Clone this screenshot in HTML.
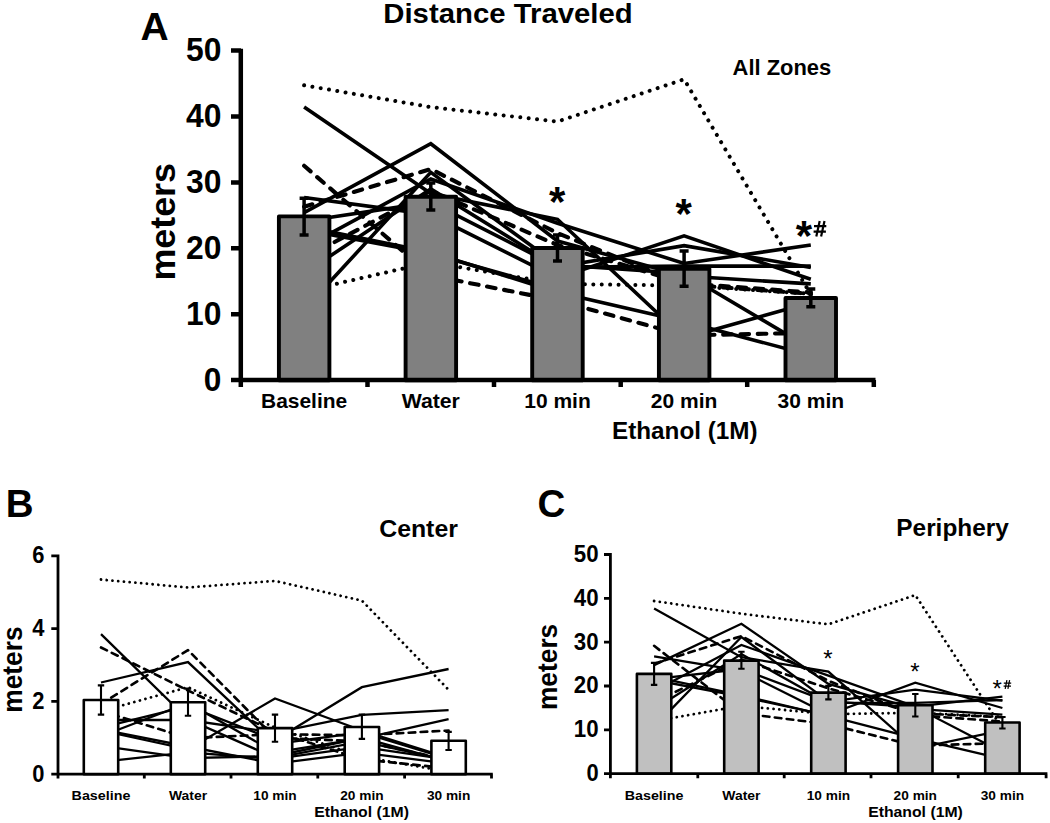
<!DOCTYPE html>
<html><head><meta charset="utf-8"><title>Distance Traveled</title>
<style>
html,body{margin:0;padding:0;background:#fff;}
body{width:1050px;height:823px;overflow:hidden;}
svg{display:block;}
svg text{font-family:"Liberation Sans", sans-serif;font-weight:bold;fill:#000;}
</style></head>
<body>
<svg width="1050" height="823" viewBox="0 0 1050 823">
<rect width="1050" height="823" fill="#fff"/>
<g id="A">
<polyline points="304.1,85.3 430.8,107.1 557.5,121.6 684.1,79.3 810.8,294.5" fill="none" stroke="#000" stroke-width="4.0" stroke-dasharray="0.01 8.4" stroke-linecap="round" stroke-linejoin="round"/>
<polyline points="304.1,291.2 430.8,262.2 557.5,283.9 684.1,285.6 810.8,293.8" fill="none" stroke="#000" stroke-width="4.0" stroke-dasharray="0.01 8.4" stroke-linecap="round" stroke-linejoin="round"/>
<polyline points="304.1,165.8 430.8,275.4 557.5,300.4 684.1,335.4 810.8,332.8" fill="none" stroke="#000" stroke-width="4.14" stroke-dasharray="8.6 8.7" stroke-linecap="round" stroke-linejoin="round"/>
<polyline points="304.1,206.7 430.8,169.1 557.5,233.1 684.1,284.6 810.8,293.8" fill="none" stroke="#000" stroke-width="4.14" stroke-dasharray="8.6 8.7" stroke-linecap="round" stroke-linejoin="round"/>
<polyline points="304.1,258.2 430.8,190.9 557.5,245.0 684.1,283.3 810.8,292.5" fill="none" stroke="#000" stroke-width="4.14" stroke-dasharray="8.6 8.7" stroke-linecap="round" stroke-linejoin="round"/>
<polyline points="304.1,212.7 430.8,143.7 557.5,241.0 684.1,276.0 810.8,283.9" fill="none" stroke="#000" stroke-width="3.6" stroke-linejoin="miter"/>
<polyline points="304.1,107.1 430.8,193.5 557.5,219.3 684.1,338.1 810.8,302.4" fill="none" stroke="#000" stroke-width="3.6" stroke-linejoin="miter"/>
<polyline points="304.1,309.7 430.8,172.4 557.5,264.8 684.1,273.4 810.8,348.6" fill="none" stroke="#000" stroke-width="3.6" stroke-linejoin="miter"/>
<polyline points="304.1,197.5 430.8,214.6 557.5,278.0 684.1,235.8 810.8,279.3" fill="none" stroke="#000" stroke-width="3.6" stroke-linejoin="miter"/>
<polyline points="304.1,221.2 430.8,202.1 557.5,266.8 684.1,245.7 810.8,267.4" fill="none" stroke="#000" stroke-width="3.6" stroke-linejoin="miter"/>
<polyline points="304.1,247.6 430.8,179.0 557.5,223.2 684.1,263.5 810.8,245.0" fill="none" stroke="#000" stroke-width="3.6" stroke-linejoin="miter"/>
<polyline points="304.1,226.5 430.8,252.3 557.5,292.2 684.1,321.6 810.8,355.2" fill="none" stroke="#000" stroke-width="3.6" stroke-linejoin="miter"/>
<polyline points="304.1,273.4 430.8,188.9 557.5,267.4 684.1,266.1 810.8,266.1" fill="none" stroke="#000" stroke-width="3.6" stroke-linejoin="miter"/>
<polyline points="304.1,229.8 430.8,253.6 557.5,289.2" fill="none" stroke="#000" stroke-width="3.6" stroke-linejoin="miter"/>
<rect x="278.9" y="216.4" width="50.5" height="163.9" fill="#808080" stroke="#000" stroke-width="3.9" stroke-linejoin="round"/>
<rect x="405.6" y="196.7" width="50.5" height="183.7" fill="#808080" stroke="#000" stroke-width="3.9" stroke-linejoin="round"/>
<rect x="532.2" y="248.0" width="50.5" height="132.3" fill="#808080" stroke="#000" stroke-width="3.9" stroke-linejoin="round"/>
<rect x="658.9" y="268.8" width="50.5" height="111.5" fill="#808080" stroke="#000" stroke-width="3.9" stroke-linejoin="round"/>
<rect x="785.5" y="298.0" width="50.5" height="82.3" fill="#808080" stroke="#000" stroke-width="3.9" stroke-linejoin="round"/>
<path d="M304.1,198.2V235.0M299.6,198.2H308.6M299.6,235.0H308.6" fill="none" stroke="#000" stroke-width="3.5"/>
<path d="M430.8,183.0V209.9M426.3,183.0H435.3M426.3,209.9H435.3" fill="none" stroke="#000" stroke-width="3.5"/>
<path d="M557.5,235.0V261.0M553.0,235.0H562.0M553.0,261.0H562.0" fill="none" stroke="#000" stroke-width="3.5"/>
<path d="M684.1,251.0V286.2M679.6,251.0H688.6M679.6,286.2H688.6" fill="none" stroke="#000" stroke-width="3.5"/>
<path d="M810.8,288.9V306.7M806.3,288.9H815.3M806.3,306.7H815.3" fill="none" stroke="#000" stroke-width="3.5"/>
<path d="M240.8,48.7V387M231,380.1H875.5M367.5,380V387M494,380V387M620.7,380V387M747.2,380V387M873.8,380V387M231,50.4H241M231,116.4H241M231,182.4H241M231,248.3H241M231,314.3H241" fill="none" stroke="#000" stroke-width="4.5"/>
<text x="221.4" y="61.3" font-size="32.7" text-anchor="end"  textLength="35.4" lengthAdjust="spacingAndGlyphs">50</text>
<text x="221.4" y="127.30000000000001" font-size="32.7" text-anchor="end"  textLength="35.4" lengthAdjust="spacingAndGlyphs">40</text>
<text x="221.4" y="193.3" font-size="32.7" text-anchor="end"  textLength="35.4" lengthAdjust="spacingAndGlyphs">30</text>
<text x="221.4" y="259.2" font-size="32.7" text-anchor="end"  textLength="35.4" lengthAdjust="spacingAndGlyphs">20</text>
<text x="221.4" y="325.2" font-size="32.7" text-anchor="end"  textLength="35.4" lengthAdjust="spacingAndGlyphs">10</text>
<text x="221.4" y="391.2" font-size="32.7" text-anchor="end"  textLength="17.6" lengthAdjust="spacingAndGlyphs">0</text>
<text x="304.1" y="408.4" font-size="21" text-anchor="middle"  textLength="86.2" lengthAdjust="spacingAndGlyphs">Baseline</text>
<text x="430.8" y="408.4" font-size="21" text-anchor="middle"  textLength="58.2" lengthAdjust="spacingAndGlyphs">Water</text>
<text x="557.5" y="408.4" font-size="21" text-anchor="middle" >10 min</text>
<text x="684.1" y="408.4" font-size="21" text-anchor="middle" >20 min</text>
<text x="810.8" y="408.4" font-size="21" text-anchor="middle" >30 min</text>
<text x="684.8" y="439.3" font-size="24.2" text-anchor="middle"  textLength="145.6" lengthAdjust="spacingAndGlyphs">Ethanol (1M)</text>
<text x="383.3" y="22.9" font-size="28" text-anchor="start"  textLength="249.4" lengthAdjust="spacingAndGlyphs">Distance Traveled</text>
<text x="732.6" y="74.6" font-size="21.8" text-anchor="start"  textLength="98.6" lengthAdjust="spacingAndGlyphs">All Zones</text>
<text x="140.5" y="40" font-size="39" text-anchor="start" >A</text>
<text transform="translate(175.2,221.8) rotate(-90)" font-size="35.2" text-anchor="middle" textLength="117.6" lengthAdjust="spacingAndGlyphs">meters</text>
<text x="557.2" y="216" font-size="42" text-anchor="middle" >*</text>
<text x="683.6" y="228.2" font-size="42" text-anchor="middle" >*</text>
<text x="804" y="250" font-size="42" text-anchor="middle" >*</text>
<path d="M816.3,236.6L819.7,220.9M821.1,236.6L824.5,220.9M814,226.2H826.3M813.6,231.7H825.9" fill="none" stroke="#000" stroke-width="2.2"/>
</g>
<g id="B">
<polyline points="101.0,579.5 188.0,587.5 275.0,580.9 361.9,600.6 448.6,689.8" fill="none" stroke="#000" stroke-width="2.8" stroke-dasharray="0.01 5.75" stroke-linecap="round" stroke-linejoin="round"/>
<polyline points="101.0,711.2 188.0,687.2 275.0,727.6 361.9,756.7 448.6,771.7" fill="none" stroke="#000" stroke-width="2.8" stroke-dasharray="0.01 5.75" stroke-linecap="round" stroke-linejoin="round"/>
<polyline points="101.0,647.5 188.0,690.5 275.0,732.0 361.9,759.3 448.6,768.4" fill="none" stroke="#000" stroke-width="2.64" stroke-dasharray="6.6 5.4" stroke-linecap="round" stroke-linejoin="round"/>
<polyline points="101.0,710.9 188.0,738.2 275.0,734.2 361.9,735.3 448.6,730.5" fill="none" stroke="#000" stroke-width="2.64" stroke-dasharray="6.6 5.4" stroke-linecap="round" stroke-linejoin="round"/>
<polyline points="101.0,703.9 188.0,650.1 275.0,737.8 361.9,741.4 448.6,759.6" fill="none" stroke="#000" stroke-width="2.64" stroke-dasharray="6.6 5.4" stroke-linecap="round" stroke-linejoin="round"/>
<polyline points="101.0,736.3 188.0,702.9 275.0,752.4 361.9,738.5 448.6,719.2" fill="none" stroke="#000" stroke-width="2.3" stroke-linejoin="miter"/>
<polyline points="101.0,634.1 188.0,719.2 275.0,757.8 361.9,741.4 448.6,760.4" fill="none" stroke="#000" stroke-width="2.3" stroke-linejoin="miter"/>
<polyline points="101.0,761.8 188.0,752.4 275.0,758.9 361.9,746.9 448.6,759.6" fill="none" stroke="#000" stroke-width="2.3" stroke-linejoin="miter"/>
<polyline points="101.0,745.8 188.0,758.2 275.0,756.0 361.9,737.8 448.6,761.5" fill="none" stroke="#000" stroke-width="2.3" stroke-linejoin="miter"/>
<polyline points="101.0,682.5 188.0,662.1 275.0,744.0 361.9,732.3 448.6,758.9" fill="none" stroke="#000" stroke-width="2.3" stroke-linejoin="miter"/>
<polyline points="101.0,730.5 188.0,749.4 275.0,698.5 361.9,730.5 448.6,757.8" fill="none" stroke="#000" stroke-width="2.3" stroke-linejoin="miter"/>
<polyline points="101.0,729.4 188.0,746.5 275.0,763.6 361.9,752.7 448.6,763.6" fill="none" stroke="#000" stroke-width="2.3" stroke-linejoin="miter"/>
<polyline points="101.0,727.6 188.0,706.1 275.0,740.3 361.9,687.2 448.6,669.0" fill="none" stroke="#000" stroke-width="2.3" stroke-linejoin="miter"/>
<polyline points="101.0,720.0 188.0,720.0 275.0,732.7 361.9,714.9 448.6,710.1" fill="none" stroke="#000" stroke-width="2.3" stroke-linejoin="miter"/>
<rect x="83.8" y="700.0" width="34.4" height="74.2" fill="#ffffff" stroke="#000" stroke-width="2.6" stroke-linejoin="round"/>
<rect x="170.8" y="702.3" width="34.4" height="71.9" fill="#ffffff" stroke="#000" stroke-width="2.6" stroke-linejoin="round"/>
<rect x="257.8" y="728.1" width="34.4" height="46.1" fill="#ffffff" stroke="#000" stroke-width="2.6" stroke-linejoin="round"/>
<rect x="344.7" y="727.0" width="34.4" height="47.2" fill="#ffffff" stroke="#000" stroke-width="2.6" stroke-linejoin="round"/>
<rect x="431.4" y="740.7" width="34.4" height="33.5" fill="#ffffff" stroke="#000" stroke-width="2.6" stroke-linejoin="round"/>
<path d="M101.0,685.4V714.6M97.8,685.4H104.2M97.8,714.6H104.2" fill="none" stroke="#000" stroke-width="2.1"/>
<path d="M188.0,688.6V715.7M184.8,688.6H191.2M184.8,715.7H191.2" fill="none" stroke="#000" stroke-width="2.1"/>
<path d="M275.0,714.6V741.7M271.8,714.6H278.2M271.8,741.7H278.2" fill="none" stroke="#000" stroke-width="2.1"/>
<path d="M361.9,714.6V738.9M358.7,714.6H365.1M358.7,738.9H365.1" fill="none" stroke="#000" stroke-width="2.1"/>
<path d="M448.6,731.9V750.0M445.4,731.9H451.8M445.4,750.0H451.8" fill="none" stroke="#000" stroke-width="2.1"/>
<path d="M58,554.5V778.5M51.3,774.1H492.8M144.3,774V778.5M231,774V778.5M317.8,774V778.5M404.6,774V778.5M491.5,774V778.5M51.3,555.8H58M51.3,628.6H58M51.3,701.4H58" fill="none" stroke="#000" stroke-width="2.8"/>
<text x="44.4" y="563.0999999999999" font-size="23.2" text-anchor="end"  textLength="12.2" lengthAdjust="spacingAndGlyphs">6</text>
<text x="44.4" y="635.9" font-size="23.2" text-anchor="end"  textLength="12.2" lengthAdjust="spacingAndGlyphs">4</text>
<text x="44.4" y="708.6999999999999" font-size="23.2" text-anchor="end"  textLength="12.2" lengthAdjust="spacingAndGlyphs">2</text>
<text x="44.4" y="781.5" font-size="23.2" text-anchor="end"  textLength="12.2" lengthAdjust="spacingAndGlyphs">0</text>
<text x="101.0" y="799.7" font-size="13.7" text-anchor="middle"  textLength="58.8" lengthAdjust="spacingAndGlyphs">Baseline</text>
<text x="188.0" y="799.7" font-size="13.7" text-anchor="middle"  textLength="38.2" lengthAdjust="spacingAndGlyphs">Water</text>
<text x="275.0" y="799.7" font-size="13.7" text-anchor="middle" >10 min</text>
<text x="361.9" y="799.7" font-size="13.7" text-anchor="middle" >20 min</text>
<text x="448.6" y="799.7" font-size="13.7" text-anchor="middle" >30 min</text>
<text x="361.6" y="816.7" font-size="14.6" text-anchor="middle"  textLength="94.7" lengthAdjust="spacingAndGlyphs">Ethanol (1M)</text>
<text x="379.2" y="536.9" font-size="24.8" text-anchor="start"  textLength="78.7" lengthAdjust="spacingAndGlyphs">Center</text>
<text x="5.8" y="517.4" font-size="38.5" text-anchor="start" >B</text>
<text transform="translate(21.9,669.6) rotate(-90)" font-size="28.3" text-anchor="middle" textLength="86.3" lengthAdjust="spacingAndGlyphs">meters</text>
</g>
<g id="C">
<polyline points="654.1,601.0 741.4,613.7 828.4,624.3 915.3,595.1 1002.4,728.6" fill="none" stroke="#000" stroke-width="2.8" stroke-dasharray="0.01 5.75" stroke-linecap="round" stroke-linejoin="round"/>
<polyline points="654.1,721.2 741.4,705.8 828.4,714.2 915.3,712.8 1002.4,716.8" fill="none" stroke="#000" stroke-width="2.8" stroke-dasharray="0.01 5.75" stroke-linecap="round" stroke-linejoin="round"/>
<polyline points="654.1,645.8 741.4,713.3 828.4,724.2 915.3,745.7 1002.4,743.1" fill="none" stroke="#000" stroke-width="2.64" stroke-dasharray="6.6 5.4" stroke-linecap="round" stroke-linejoin="round"/>
<polyline points="654.1,663.7 741.4,636.1 828.4,680.8 915.3,715.0 1002.4,721.6" fill="none" stroke="#000" stroke-width="2.64" stroke-dasharray="6.6 5.4" stroke-linecap="round" stroke-linejoin="round"/>
<polyline points="654.1,702.3 741.4,659.8 828.4,688.3 915.3,713.3 1002.4,717.2" fill="none" stroke="#000" stroke-width="2.64" stroke-dasharray="6.6 5.4" stroke-linecap="round" stroke-linejoin="round"/>
<polyline points="654.1,665.1 741.4,623.8 828.4,683.9 915.3,708.9 1002.4,714.6" fill="none" stroke="#000" stroke-width="2.3" stroke-linejoin="miter"/>
<polyline points="654.1,608.5 741.4,657.2 828.4,671.6 915.3,748.6 1002.4,730.4" fill="none" stroke="#000" stroke-width="2.3" stroke-linejoin="miter"/>
<polyline points="654.1,726.9 741.4,637.0 828.4,701.4 915.3,707.1 1002.4,752.3" fill="none" stroke="#000" stroke-width="2.3" stroke-linejoin="miter"/>
<polyline points="654.1,656.3 741.4,670.8 828.4,714.6 915.3,682.6 1002.4,708.0" fill="none" stroke="#000" stroke-width="2.3" stroke-linejoin="miter"/>
<polyline points="654.1,679.1 741.4,669.0 828.4,701.9 915.3,689.6 1002.4,700.6" fill="none" stroke="#000" stroke-width="2.3" stroke-linejoin="miter"/>
<polyline points="654.1,690.9 741.4,644.9 828.4,675.6 915.3,706.7 1002.4,696.6" fill="none" stroke="#000" stroke-width="2.3" stroke-linejoin="miter"/>
<polyline points="654.1,676.9 741.4,695.3 828.4,715.9 915.3,738.3 1002.4,758.9" fill="none" stroke="#000" stroke-width="2.3" stroke-linejoin="miter"/>
<polyline points="654.1,709.3 741.4,654.1 828.4,702.8 915.3,702.8 1002.4,700.1" fill="none" stroke="#000" stroke-width="2.3" stroke-linejoin="miter"/>
<polyline points="654.1,680.0 741.4,696.6 828.4,715.5" fill="none" stroke="#000" stroke-width="2.3" stroke-linejoin="miter"/>
<rect x="636.9" y="673.9" width="34.4" height="99.9" fill="#c0c0c0" stroke="#000" stroke-width="2.6" stroke-linejoin="round"/>
<rect x="724.2" y="660.6" width="34.4" height="113.2" fill="#c0c0c0" stroke="#000" stroke-width="2.6" stroke-linejoin="round"/>
<rect x="811.2" y="692.6" width="34.4" height="81.2" fill="#c0c0c0" stroke="#000" stroke-width="2.6" stroke-linejoin="round"/>
<rect x="898.1" y="705.2" width="34.4" height="68.6" fill="#c0c0c0" stroke="#000" stroke-width="2.6" stroke-linejoin="round"/>
<rect x="985.2" y="722.5" width="34.4" height="51.3" fill="#c0c0c0" stroke="#000" stroke-width="2.6" stroke-linejoin="round"/>
<path d="M654.1,662.9V684.9M650.9,662.9H657.3M650.9,684.9H657.3" fill="none" stroke="#000" stroke-width="2.1"/>
<path d="M741.4,651.8V668.7M738.2,651.8H744.6M738.2,668.7H744.6" fill="none" stroke="#000" stroke-width="2.1"/>
<path d="M828.4,685.9V699.4M825.2,685.9H831.6M825.2,699.4H831.6" fill="none" stroke="#000" stroke-width="2.1"/>
<path d="M915.3,694.0V716.5M912.1,694.0H918.5M912.1,716.5H918.5" fill="none" stroke="#000" stroke-width="2.1"/>
<path d="M1002.4,717.0V728.5M999.2,717.0H1005.6M999.2,728.5H1005.6" fill="none" stroke="#000" stroke-width="2.1"/>
<path d="M610.4,553V778.3M604,773.7H1047.4M697.8,773.7V778.3M784.2,773.7V778.3M871,773.7V778.3M958.2,773.7V778.3M1046.1,773.7V778.3M604,554.5H610.4M604,598.3H610.4M604,642.2H610.4M604,686H610.4M604,729.9H610.4" fill="none" stroke="#000" stroke-width="2.8"/>
<text x="598.6" y="561.8" font-size="23.2" text-anchor="end"  textLength="24.8" lengthAdjust="spacingAndGlyphs">50</text>
<text x="598.6" y="605.5999999999999" font-size="23.2" text-anchor="end"  textLength="24.8" lengthAdjust="spacingAndGlyphs">40</text>
<text x="598.6" y="649.5" font-size="23.2" text-anchor="end"  textLength="24.8" lengthAdjust="spacingAndGlyphs">30</text>
<text x="598.6" y="693.3" font-size="23.2" text-anchor="end"  textLength="24.8" lengthAdjust="spacingAndGlyphs">20</text>
<text x="598.6" y="737.1999999999999" font-size="23.2" text-anchor="end"  textLength="24.8" lengthAdjust="spacingAndGlyphs">10</text>
<text x="598.6" y="781.0" font-size="23.2" text-anchor="end"  textLength="12.2" lengthAdjust="spacingAndGlyphs">0</text>
<text x="654.1" y="799.7" font-size="13.7" text-anchor="middle"  textLength="58.8" lengthAdjust="spacingAndGlyphs">Baseline</text>
<text x="741.4" y="799.7" font-size="13.7" text-anchor="middle"  textLength="38.2" lengthAdjust="spacingAndGlyphs">Water</text>
<text x="828.4" y="799.7" font-size="13.7" text-anchor="middle" >10 min</text>
<text x="915.3" y="799.7" font-size="13.7" text-anchor="middle" >20 min</text>
<text x="1002.4" y="799.7" font-size="13.7" text-anchor="middle" >30 min</text>
<text x="915.5" y="816.7" font-size="14.6" text-anchor="middle"  textLength="94.7" lengthAdjust="spacingAndGlyphs">Ethanol (1M)</text>
<text x="896.3" y="535.9" font-size="24.4" text-anchor="start" >Periphery</text>
<text x="537.5" y="517.4" font-size="38.5" text-anchor="start" >C</text>
<text transform="translate(556.5,666.9) rotate(-90)" font-size="28.3" text-anchor="middle" textLength="86.3" lengthAdjust="spacingAndGlyphs">meters</text>
<text x="827.8" y="667.4" font-size="24" text-anchor="middle" style="font-weight:normal">*</text>
<text x="915" y="679.8" font-size="24" text-anchor="middle" style="font-weight:normal">*</text>
<text x="997.2" y="697" font-size="24" text-anchor="middle" style="font-weight:normal">*</text>
<path d="M1005.2,688.8L1006.9,680.2M1007.9,688.8L1009.6,680.2M1003.8,683.1H1011.2M1003.6,686.1H1011" fill="none" stroke="#000" stroke-width="1.25"/>
</g>
</svg>
</body></html>
